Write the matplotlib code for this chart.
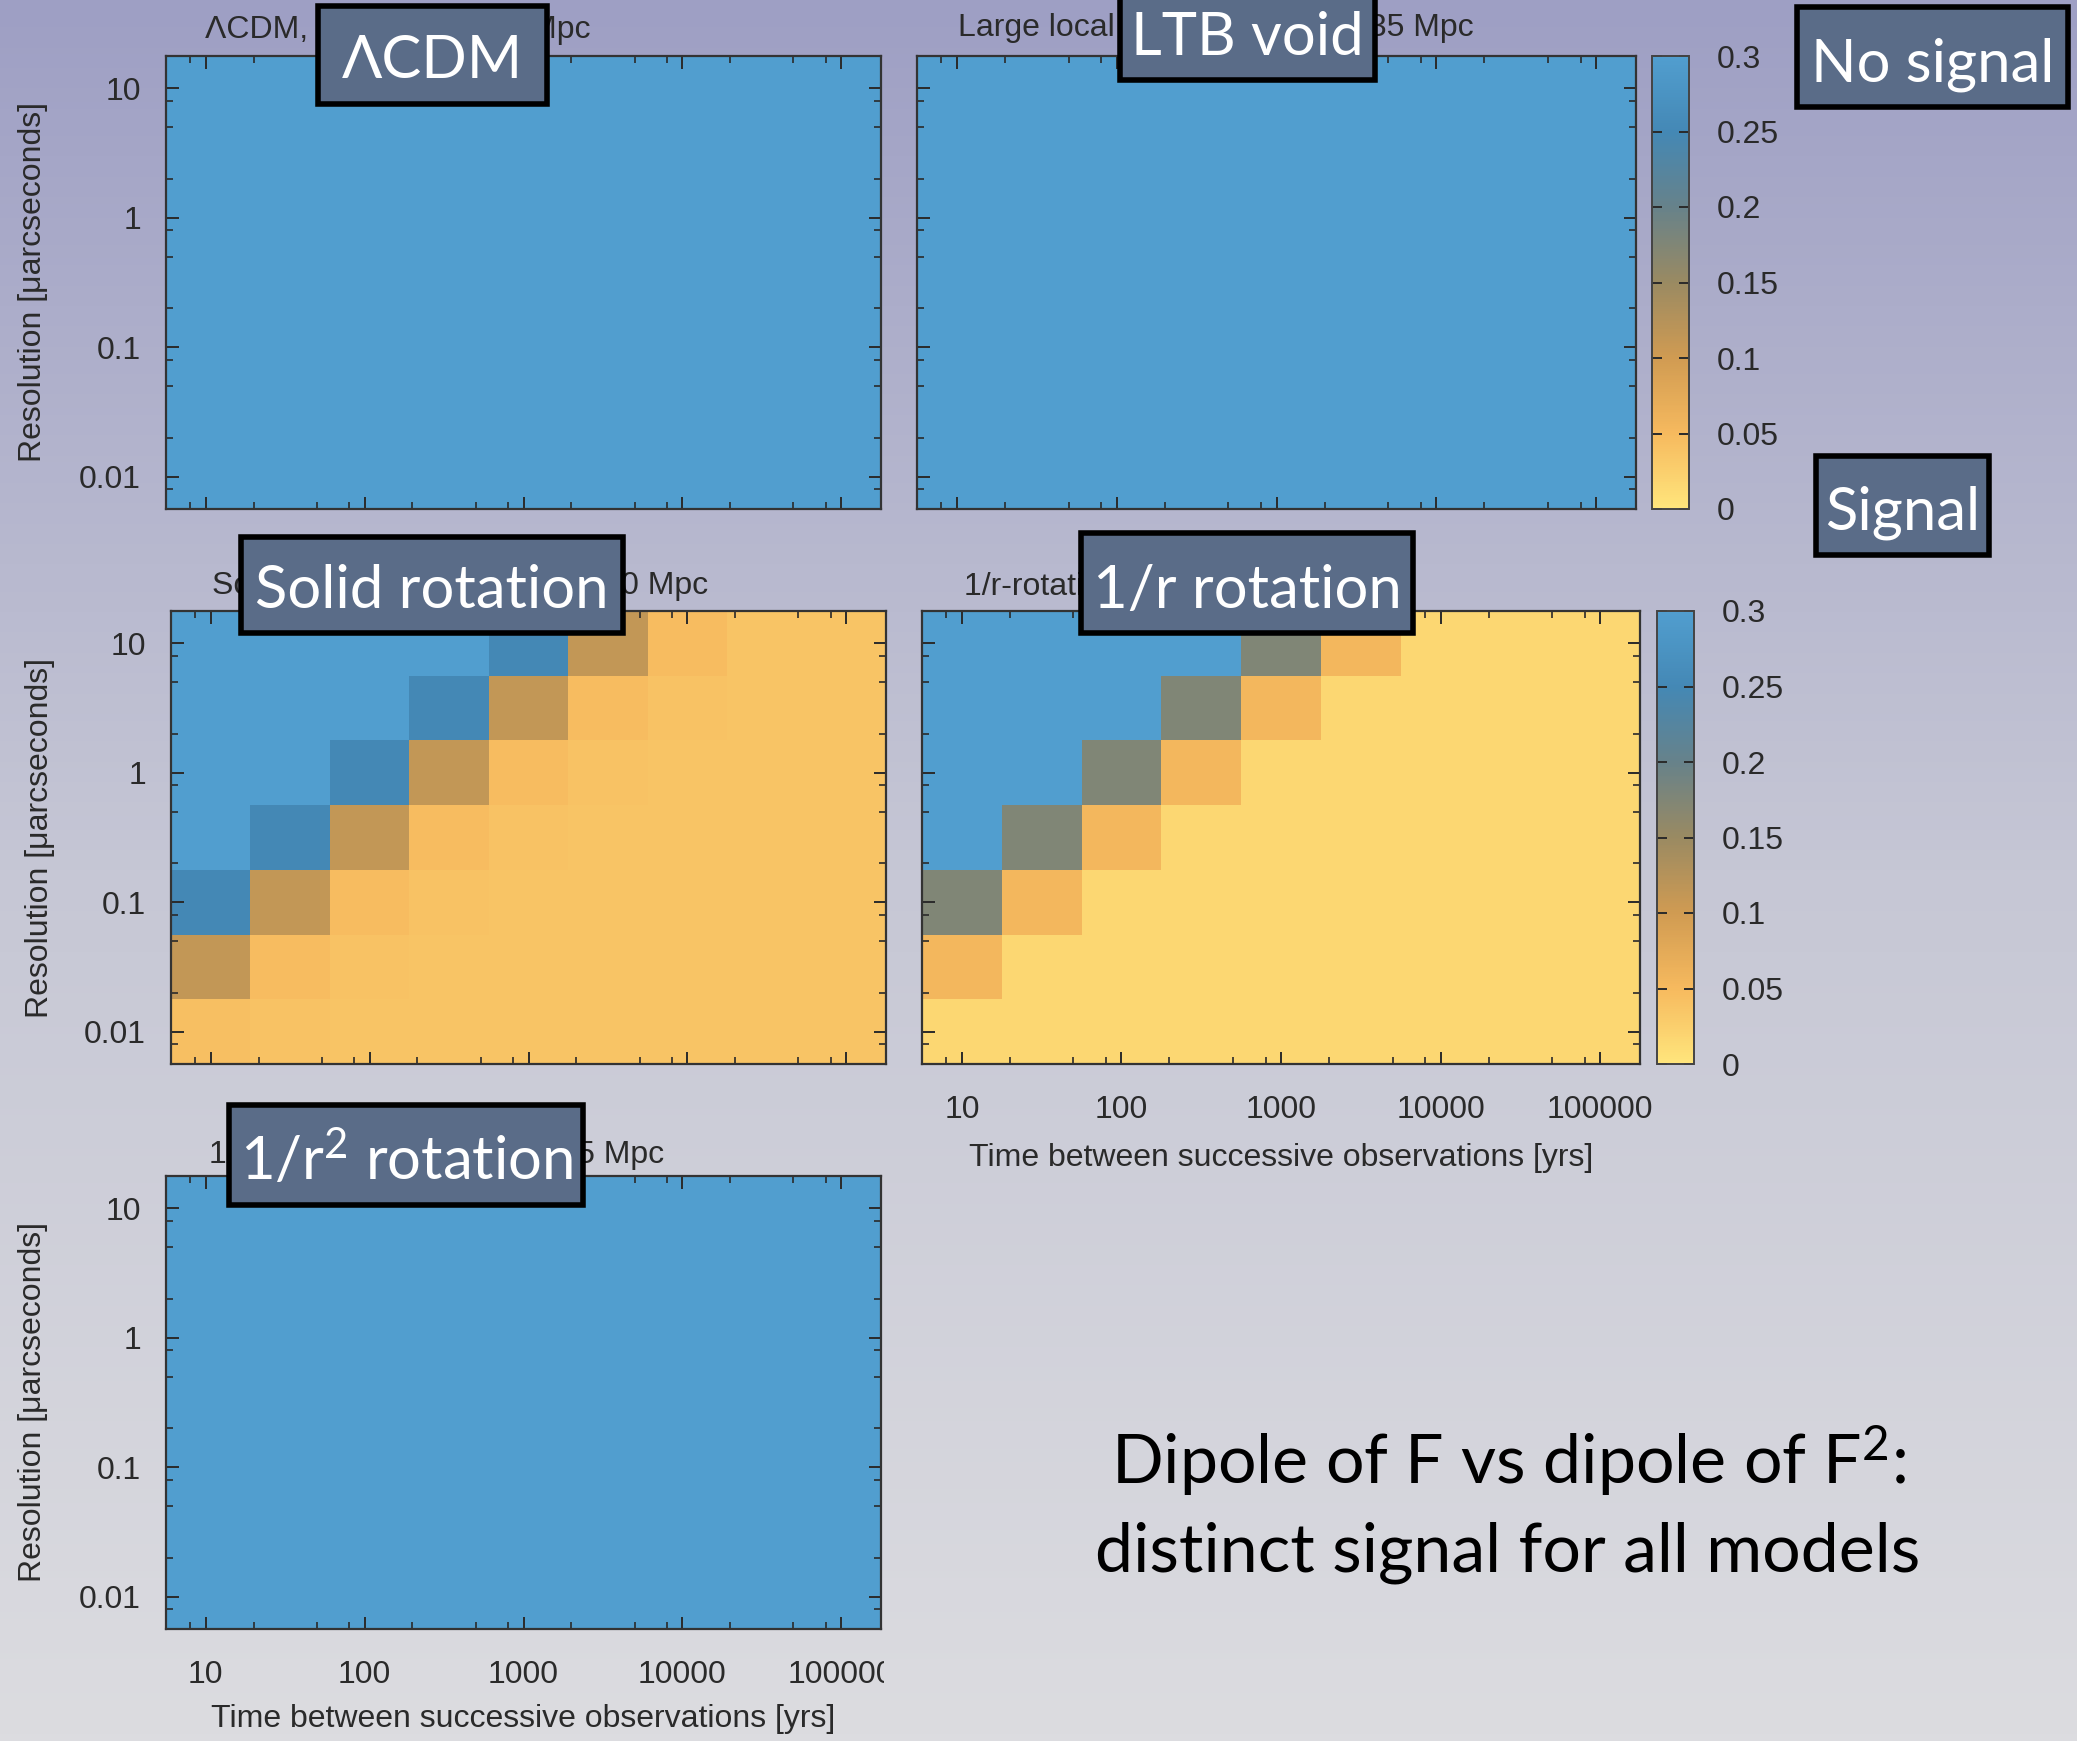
import numpy as np
import matplotlib
matplotlib.use("Agg")
import matplotlib.pyplot as plt
from matplotlib.colors import LinearSegmentedColormap, Normalize
from matplotlib.patches import Rectangle
from matplotlib.ticker import LogLocator, NullFormatter
from matplotlib.transforms import Bbox, TransformedBbox

W, H = 2077, 1741
plt.rcParams['font.family'] = ['Liberation Sans', 'DejaVu Sans']
plt.rcParams['mathtext.fontset'] = 'custom'
plt.rcParams['mathtext.rm'] = 'Lato'
plt.rcParams['mathtext.it'] = 'Lato'

# cell centres: time between observations [yrs] and resolution [micro-arcsec], top row first
times = [10, 31.6, 100, 316, 1000, 3160, 10000, 31600, 100000]
resolutions = [10, 3.16, 1, 0.316, 0.1, 0.0316, 0.01]

x_ticks = [10, 100, 1000, 10000, 100000]
x_tick_labels = ['10', '100', '1000', '10000', '100000']
y_ticks = [0.01, 0.1, 1, 10]
y_tick_labels = ['0.01', '0.1', '1', '10']
cbar_ticks = [0, 0.05, 0.1, 0.15, 0.2, 0.25, 0.3]
cbar_labels = ['0', '0.05', '0.1', '0.15', '0.2', '0.25', '0.3']

lcdm_grid = [
    [0.30, 0.30, 0.30, 0.30, 0.30, 0.30, 0.30, 0.30, 0.30],
    [0.30, 0.30, 0.30, 0.30, 0.30, 0.30, 0.30, 0.30, 0.30],
    [0.30, 0.30, 0.30, 0.30, 0.30, 0.30, 0.30, 0.30, 0.30],
    [0.30, 0.30, 0.30, 0.30, 0.30, 0.30, 0.30, 0.30, 0.30],
    [0.30, 0.30, 0.30, 0.30, 0.30, 0.30, 0.30, 0.30, 0.30],
    [0.30, 0.30, 0.30, 0.30, 0.30, 0.30, 0.30, 0.30, 0.30],
    [0.30, 0.30, 0.30, 0.30, 0.30, 0.30, 0.30, 0.30, 0.30],
]
ltb_grid = [
    [0.30, 0.30, 0.30, 0.30, 0.30, 0.30, 0.30, 0.30, 0.30],
    [0.30, 0.30, 0.30, 0.30, 0.30, 0.30, 0.30, 0.30, 0.30],
    [0.30, 0.30, 0.30, 0.30, 0.30, 0.30, 0.30, 0.30, 0.30],
    [0.30, 0.30, 0.30, 0.30, 0.30, 0.30, 0.30, 0.30, 0.30],
    [0.30, 0.30, 0.30, 0.30, 0.30, 0.30, 0.30, 0.30, 0.30],
    [0.30, 0.30, 0.30, 0.30, 0.30, 0.30, 0.30, 0.30, 0.30],
    [0.30, 0.30, 0.30, 0.30, 0.30, 0.30, 0.30, 0.30, 0.30],
]
solid_grid = [
    [0.300, 0.300, 0.300, 0.300, 0.250, 0.113, 0.048, 0.038, 0.038],
    [0.300, 0.300, 0.300, 0.250, 0.113, 0.048, 0.040, 0.038, 0.038],
    [0.300, 0.300, 0.250, 0.113, 0.048, 0.040, 0.038, 0.038, 0.038],
    [0.300, 0.250, 0.113, 0.048, 0.040, 0.038, 0.038, 0.038, 0.038],
    [0.250, 0.113, 0.048, 0.040, 0.038, 0.038, 0.038, 0.038, 0.038],
    [0.113, 0.048, 0.040, 0.038, 0.038, 0.038, 0.038, 0.038, 0.038],
    [0.044, 0.040, 0.038, 0.038, 0.038, 0.038, 0.038, 0.038, 0.038],
]
inv_r_grid = [
    [0.300, 0.300, 0.300, 0.300, 0.175, 0.055, 0.017, 0.017, 0.017],
    [0.300, 0.300, 0.300, 0.175, 0.055, 0.017, 0.017, 0.017, 0.017],
    [0.300, 0.300, 0.175, 0.055, 0.017, 0.017, 0.017, 0.017, 0.017],
    [0.300, 0.175, 0.055, 0.017, 0.017, 0.017, 0.017, 0.017, 0.017],
    [0.175, 0.055, 0.017, 0.017, 0.017, 0.017, 0.017, 0.017, 0.017],
    [0.055, 0.017, 0.017, 0.017, 0.017, 0.017, 0.017, 0.017, 0.017],
    [0.017, 0.017, 0.017, 0.017, 0.017, 0.017, 0.017, 0.017, 0.017],
]
inv_r2_grid = [
    [0.30, 0.30, 0.30, 0.30, 0.30, 0.30, 0.30, 0.30, 0.30],
    [0.30, 0.30, 0.30, 0.30, 0.30, 0.30, 0.30, 0.30, 0.30],
    [0.30, 0.30, 0.30, 0.30, 0.30, 0.30, 0.30, 0.30, 0.30],
    [0.30, 0.30, 0.30, 0.30, 0.30, 0.30, 0.30, 0.30, 0.30],
    [0.30, 0.30, 0.30, 0.30, 0.30, 0.30, 0.30, 0.30, 0.30],
    [0.30, 0.30, 0.30, 0.30, 0.30, 0.30, 0.30, 0.30, 0.30],
    [0.30, 0.30, 0.30, 0.30, 0.30, 0.30, 0.30, 0.30, 0.30],
]

# gnuplot-like palette, yellow (signal) -> blue (no signal)
palette = LinearSegmentedColormap.from_list('dipole', [
    (0.0, '#ffe57c'), (0.05 / 0.3, '#f6b95e'), (0.1 / 0.3, '#d09b52'),
    (0.15 / 0.3, '#9a8a62'), (0.2 / 0.3, '#67828a'), (0.25 / 0.3, '#4488b5'),
    (1.0, '#519ecf')])
norm = Normalize(0, 0.3)
ink = '#2a2a2a'
gp_size = 23


def fx(x):
    return x / W


def fy(y):
    return 1 - y / H


def axes_px(l, t, r, b):
    return fig.add_axes([l / W, 1 - b / H, (r - l) / W, (b - t) / H])


def log_edges(centres):
    c = np.log10(np.sort(np.asarray(centres, float)))
    step = np.diff(c).mean()
    mids = (c[1:] + c[:-1]) / 2
    return 10 ** np.r_[c[0] - step / 2, mids, c[-1] + step / 2]


def heat_panel(ax, grid, title, title_xy, ylabel_x=None, xlabel_y=None):
    z = np.asarray(grid)[::-1]
    mesh = ax.pcolormesh(log_edges(times), log_edges(resolutions), z,
                         cmap=palette, norm=norm, shading='flat')
    ax.set_xscale('log')
    ax.set_yscale('log')
    ax.set_xlim(10 ** 0.75, 10 ** 5.25)
    ax.set_ylim(10 ** -2.25, 10 ** 1.25)
    ax.set_xticks(x_ticks, labels=x_tick_labels)
    ax.set_yticks(y_ticks, labels=y_tick_labels)
    ax.xaxis.set_minor_locator(LogLocator(base=10, subs=(2, 5, 8)))
    ax.yaxis.set_minor_locator(LogLocator(base=10, subs=(2, 5, 8)))
    ax.xaxis.set_minor_formatter(NullFormatter())
    ax.yaxis.set_minor_formatter(NullFormatter())
    ax.tick_params(which='both', direction='in', top=True, right=True,
                   colors=ink, labelsize=gp_size)
    ax.tick_params(which='major', length=9, width=1.4)
    ax.tick_params(which='minor', length=5, width=1.2)
    ax.tick_params(axis='x', pad=22, labelbottom=xlabel_y is not None)
    ax.tick_params(axis='y', pad=18, labelleft=ylabel_x is not None)
    for s in ax.spines.values():
        s.set_color('#333333')
        s.set_linewidth(1.6)
    pos = ax.get_position()
    if ylabel_x is not None:
        ax.set_ylabel('Resolution [μarcseconds]', fontsize=gp_size, color=ink, va='center')
        ax.yaxis.set_label_coords((ylabel_x / W - pos.x0) / pos.width, 0.5)
    if xlabel_y is not None:
        ax.set_xlabel('Time between successive observations [yrs]', fontsize=gp_size,
                      color=ink, va='center')
        ax.xaxis.set_label_coords(0.5, (fy(xlabel_y) - pos.y0) / pos.height)
    fig.text(fx(title_xy[0]), fy(title_xy[1]), title, fontsize=gp_size, color=ink,
             ha='left', va='baseline')
    return mesh


def colorbar_px(mesh, l, t, r, b):
    cax = axes_px(l, t, r, b)
    cb = fig.colorbar(mesh, cax=cax, ticks=cbar_ticks)
    cb.ax.set_yticklabels(cbar_labels)
    cb.outline.set_edgecolor('#444444')
    cb.outline.set_linewidth(1.4)
    cb.ax.tick_params(direction='in', left=True, right=True, length=7, width=1.4,
                      colors=ink, labelsize=gp_size, pad=20)
    return cb


def tag(l, t, r, b, text, baseline):
    lw = 4
    inset = lw * 100 / 72 / 2
    fig.patches.append(Rectangle((fx(l + inset), fy(b - inset)),
                                 (r - l - 2 * inset) / W, (b - t - 2 * inset) / H,
                                 transform=fig.transFigure, facecolor='#5a6c88',
                                 edgecolor='black', linewidth=lw, zorder=5))
    fig.text(fx((l + r) / 2), fy(baseline), text, fontsize=43, color='white',
             family='Lato', ha='center', va='baseline', zorder=6)


fig = plt.figure(figsize=(W / 100, H / 100), dpi=100)

# slide background
bg = fig.add_axes([0, 0, 1, 1], zorder=-10)
bg.imshow(np.linspace(0, 1, 256)[:, None], aspect='auto', extent=[0, 1, 0, 1],
          cmap=LinearSegmentedColormap.from_list('bg', ['#9e9fc4', '#c6c7d5', '#dcdce0']))
bg.set_axis_off()

ax1 = axes_px(166, 56, 881, 509)
ax2 = axes_px(917, 56, 1636, 509)
ax3 = axes_px(171, 611, 886, 1064)
ax4 = axes_px(922, 611, 1640, 1064)
ax5 = axes_px(166, 1176, 881, 1629)

m1 = heat_panel(ax1, lcdm_grid, 'ΛCDM, observer at 15 Mpc', (205, 38), ylabel_x=33)
m2 = heat_panel(ax2, ltb_grid, 'Large local void, observer at 35 Mpc', (958, 36))
m3 = heat_panel(ax3, solid_grid, 'Solid rotation, observer at 100 Mpc', (212, 594), ylabel_x=40)
m4 = heat_panel(ax4, inv_r_grid, '1/r-rotation, observer at 5 Mpc', (964, 595), xlabel_y=1158)
m5 = heat_panel(ax5, inv_r2_grid, '1/r² rotation, observer at 25 Mpc', (209, 1163),
                ylabel_x=33, xlabel_y=1719)

# the lower-left panel is cut off just past its right edge
edge_clip = TransformedBbox(Bbox.from_extents(0, 0, 884 / W, 1), fig.transFigure)
for lab in ax5.get_xticklabels():
    lab.set_clip_on(True)
    lab.set_clip_box(edge_clip)

colorbar_px(m2, 1652, 56, 1689, 509)
colorbar_px(m4, 1657, 611, 1694, 1064)

tag(315, 3, 550, 107, 'ΛCDM', 78)
tag(1117, -10, 1378, 83, 'LTB void', 55)
tag(1794, 4, 2071, 110, 'No signal', 82)
tag(1813, 453, 1992, 558, 'Signal', 530)
tag(238, 534, 626, 636, 'Solid rotation', 608)
tag(1078, 530, 1416, 636, '1/r rotation', 608)
tag(226, 1102, 586, 1208, '1/r$^2$ rotation', 1180)

fig.text(fx(1508), fy(1484), 'Dipole of F vs dipole of F$^2$:', fontsize=49,
         family='Lato', color='black', ha='center', va='baseline')
fig.text(fx(1508), fy(1572), 'distinct signal for all models', fontsize=49,
         family='Lato', color='black', ha='center', va='baseline')

fig.savefig('out.png', dpi=100)
